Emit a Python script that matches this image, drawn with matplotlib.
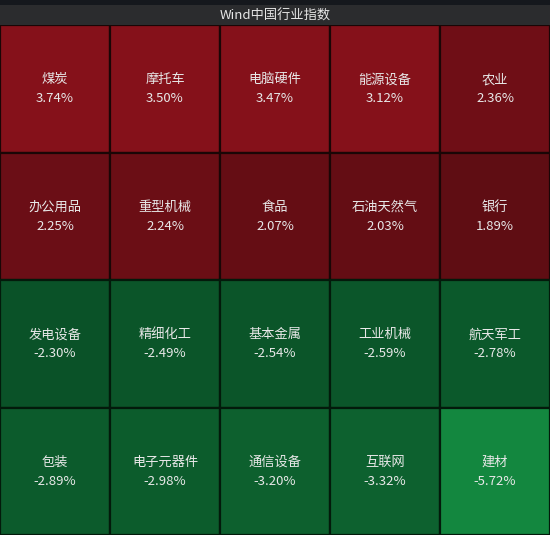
import matplotlib
matplotlib.use("Agg")
import matplotlib.pyplot as plt
from matplotlib.patches import Rectangle

plt.rcParams['font.family'] = ['Noto Sans CJK SC', 'DejaVu Sans']

title = "Wind中国行业指数"
industries = ["煤炭", "摩托车", "电脑硬件", "能源设备", "农业",
              "办公用品", "重型机械", "食品", "石油天然气", "银行",
              "发电设备", "精细化工", "基本金属", "工业机械", "航天军工",
              "包装", "电子元器件", "通信设备", "互联网", "建材"]
changes = [3.74, 3.50, 3.47, 3.12, 2.36,
           2.25, 2.24, 2.07, 2.03, 1.89,
           -2.30, -2.49, -2.54, -2.59, -2.78,
           -2.89, -2.98, -3.20, -3.32, -5.72]

n_cols = 5
n_rows = 4


def cell_color(v):
    # red for gains (saturates near 3%), green for losses
    if v >= 0:
        t = min(v / 3.0, 1.0)
        lo, hi = (30, 5, 8), (133, 17, 26)
    else:
        t = min(-v / 6.0, 1.0)
        lo, hi = (4, 46, 24), (20, 139, 65)
    return tuple((a + (b - a) * t) / 255 for a, b in zip(lo, hi))


fig = plt.figure(figsize=(5.5, 5.35), dpi=100)
fig.patch.set_facecolor("#15181d")

# title bar
bar = fig.add_axes([0, 510 / 535, 1, 20 / 535])
bar.set_facecolor("#2b2c2e")
bar.set_xticks([])
bar.set_yticks([])
for s in bar.spines.values():
    s.set_visible(False)
bar.text(0.5, 0.45, title, ha="center", va="center", color="#e6e6e6", fontsize=9.5)

ax = fig.add_axes([0, 0, 1, 510 / 535])
ax.set_xlim(0, n_cols)
ax.set_ylim(n_rows, 0)
ax.axis("off")

for i, (name, v) in enumerate(zip(industries, changes)):
    r, c = divmod(i, n_cols)
    ax.add_patch(Rectangle((c, r), 1, 1, facecolor=cell_color(v),
                           edgecolor="#1a0606" if v >= 0 else "#031a0b", linewidth=1.6))
    ax.text(c + 0.5, r + 0.43, name, ha="center", va="center",
            color="#e8e8e8", fontsize=9.5)
    ax.text(c + 0.5, r + 0.58, f"{v:.2f}%", ha="center", va="center",
            color="#e8e8e8", fontsize=9.5)

fig.savefig("out.png", dpi=100, facecolor=fig.get_facecolor())
